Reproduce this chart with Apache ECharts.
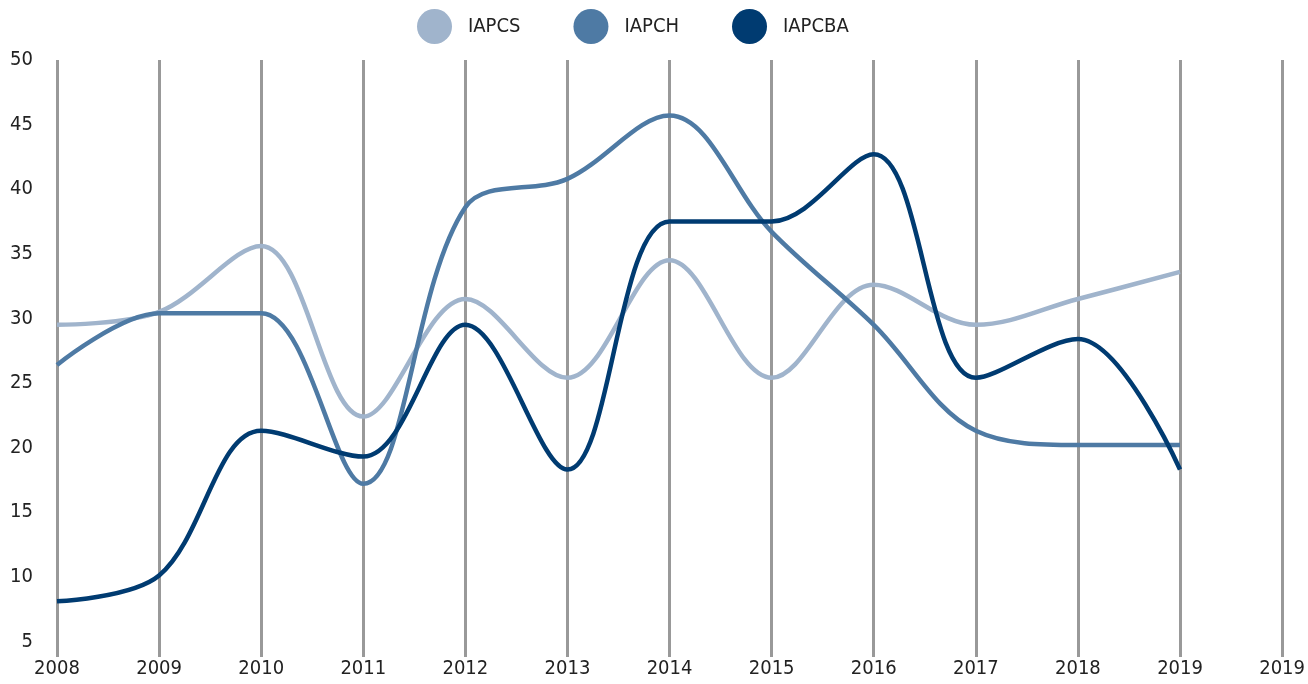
<!DOCTYPE html>
<html>
<head>
<meta charset="utf-8">
<title>IAPCS / IAPCH / IAPCBA</title>
<script src="https://cdn.jsdelivr.net/npm/echarts@6/dist/echarts.min.js"></script>
<style>
  html, body { margin: 0; padding: 0; background: #fff; }
  #main { width: 1308px; height: 684px; }
</style>
</head>
<body>
<div id="main"></div>
<script>
  // categories (the source repeats 2019 on the last gridline)
  const years = ['2008', '2009', '2010', '2011', '2012', '2013', '2014', '2015', '2016', '2017', '2018', '2019', '2019'];
  const iapcs = [29.5, 30.5, 35.6, 22.4, 31.5, 25.4, 34.5, 25.4, 32.6, 29.5, 31.5, 33.6];
  const iapch = [26.4, 30.4, 30.4, 17.2, 38.6, 40.8, 45.7, 36.7, 29.5, 21.3, 20.2, 20.2];
  const iapcba = [8.1, 10.1, 21.3, 19.3, 29.5, 18.3, 37.5, 37.5, 42.7, 25.4, 28.4, 18.3];

  const font = '"DejaVu Sans Condensed", "DejaVu Sans", sans-serif';
  const chart = echarts.init(document.getElementById('main'));

  function line(name, data, color) {
    return {
      name: name,
      type: 'line',
      data: data,
      smooth: 0.35,
      showSymbol: false,
      symbol: 'none',
      color: color,
      lineStyle: { width: 4.5, color: color }
    };
  }

  const option = {
    animation: false,
    textStyle: { fontFamily: font },
    legend: {
      left: 412,
      top: 4,
      icon: 'circle',
      itemWidth: 35,
      itemHeight: 35,
      itemGap: 53,
      textStyle: { fontFamily: font, fontSize: 20, color: '#222', padding: [0, 0, 0, 11] },
      data: ['IAPCS', 'IAPCH', 'IAPCBA']
    },
    grid: { left: 57, right: 18, top: 60, bottom: 27, containLabel: false },
    xAxis: {
      type: 'category',
      data: years,
      boundaryGap: false,
      axisLine: { show: false },
      axisTick: { show: false },
      axisLabel: { fontFamily: font, fontSize: 20, color: '#222', margin: 2 },
      splitLine: { show: true, lineStyle: { color: '#999', width: 3 } }
    },
    yAxis: {
      type: 'value',
      min: 3.79,
      max: 50,
      splitNumber: 9,
      axisLine: { show: false },
      axisTick: { show: false },
      splitLine: { show: false },
      axisLabel: {
        fontFamily: font, fontSize: 20, color: '#222', margin: 24,
        formatter: function (v) { return Math.abs(v % 5) < 1e-6 ? String(v) : ''; }
      }
    },
    series: [
      line('IAPCS', iapcs, '#a0b4cc'),
      line('IAPCH', iapch, '#4e7aa4'),
      line('IAPCBA', iapcba, '#003b71')
    ]
  };

  chart.setOption(option);
</script>
</body>
</html>
